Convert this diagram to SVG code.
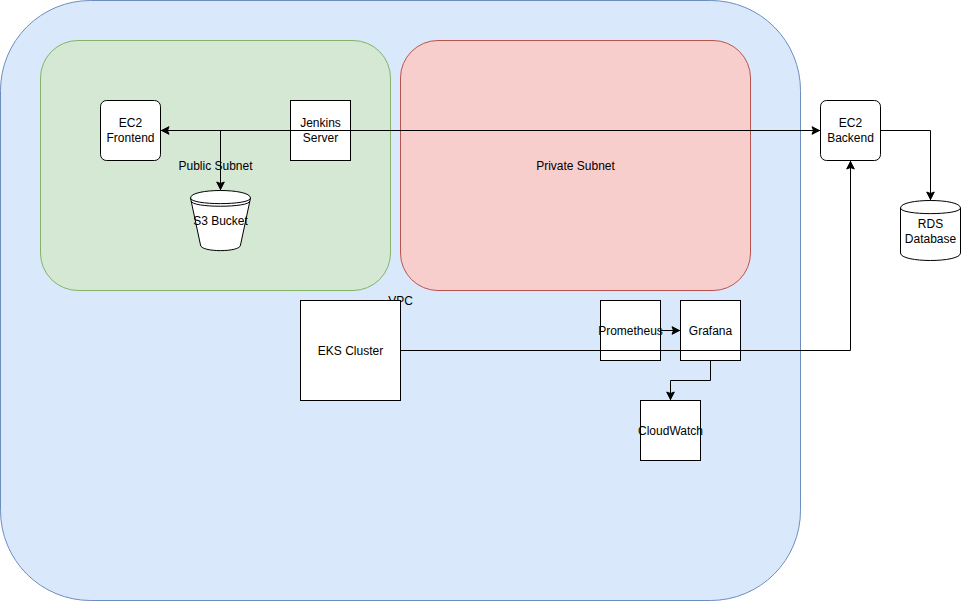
<svg xmlns="http://www.w3.org/2000/svg" width="961" height="601" viewBox="0 0 961 601">
<defs>
<style>
text{font-family:"Liberation Sans",Arial,sans-serif;font-size:12px;fill:#000;text-anchor:middle}
.box{fill:#fff;stroke:#000;stroke-width:1}
.wire{fill:none;stroke:#000;stroke-width:1}
</style>
<marker id="tip" viewBox="0 0 10 10" refX="9" refY="5" markerWidth="10" markerHeight="10" markerUnits="userSpaceOnUse" orient="auto-start-reverse" overflow="visible"><path d="M0.5,1.2 L8,5 L0.5,8.8 L2,5 Z" fill="#000" stroke="#000" stroke-width="1"/></marker>
</defs>
<g id="vpc"><rect x="0.5" y="0.5" width="800" height="600" rx="90" ry="90" fill="#dae8fc" stroke="#6c8ebf"/><text x="400.5" y="305">VPC</text></g>
<g id="public-subnet"><rect x="40.5" y="40.5" width="350" height="250" rx="37.5" ry="37.5" fill="#d5e8d4" stroke="#82b366"/><text x="215.5" y="170">Public Subnet</text></g>
<g id="private-subnet"><rect x="400.5" y="40.5" width="350" height="250" rx="37.5" ry="37.5" fill="#f8cecc" stroke="#b85450"/><text x="575.5" y="170">Private Subnet</text></g>
<g id="ec2-frontend"><rect class="box" x="100.5" y="100.5" width="60" height="60" rx="6" ry="6"/><text x="130.5" y="127">EC2</text><text x="130.5" y="142">Frontend</text></g>
<g id="jenkins"><rect class="box" x="290.5" y="100.5" width="60" height="60"/><text x="320.5" y="127">Jenkins</text><text x="320.5" y="142">Server</text></g>
<g id="s3-bucket"><path class="box" d="M190.5 198 C190.5 188 250.5 188 250.5 198 L240.5 245 C240.5 252.5 200.5 252.5 200.5 245 Z"/><path class="wire" d="M190.5 198 C190.5 205.5 250.5 205.5 250.5 198 M191.2 201 C191.2 208 249.8 208 249.8 201"/><text x="220.5" y="225">S3 Bucket</text></g>
<g id="ec2-backend"><rect class="box" x="820.5" y="100.5" width="60" height="60" rx="6" ry="6"/><text x="850.5" y="127">EC2</text><text x="850.5" y="142">Backend</text></g>
<g id="rds"><path class="box" d="M900.5 208 C900.5 198 960.5 198 960.5 208 L960.5 253 C960.5 263 900.5 263 900.5 253 Z"/><path class="wire" d="M900.5 208 C900.5 215.5 960.5 215.5 960.5 208"/><text x="930.5" y="228">RDS</text><text x="930.5" y="243">Database</text></g>
<g id="eks-cluster"><rect class="box" x="300.5" y="300.5" width="100" height="100"/><text x="350.5" y="355">EKS Cluster</text></g>
<g id="prometheus"><rect class="box" x="600.5" y="300.5" width="60" height="60"/><text x="630.5" y="335">Prometheus</text></g>
<g id="grafana"><rect class="box" x="680.5" y="300.5" width="60" height="60"/><text x="710.5" y="335">Grafana</text></g>
<g id="cloudwatch"><rect class="box" x="640.5" y="400.5" width="60" height="60"/><text x="670.5" y="435">CloudWatch</text></g>
<g id="connectors">
<path class="wire" d="M160.5 130.5 L820.5 130.5" marker-start="url(#tip)" marker-end="url(#tip)"/>
<path class="wire" d="M220.5 130.5 L220.5 190.5" marker-end="url(#tip)"/>
<path class="wire" d="M880.5 130.5 L930.5 130.5 L930.5 200.5" marker-end="url(#tip)"/>
<path class="wire" d="M400.5 350.5 L850.5 350.5 L850.5 160.5" marker-end="url(#tip)"/>
<path class="wire" d="M660.5 330.5 L680.5 330.5" marker-end="url(#tip)"/>
<path class="wire" d="M710.5 360.5 L710.5 380.5 L670.5 380.5 L670.5 400.5" marker-end="url(#tip)"/>
</g>
</svg>
